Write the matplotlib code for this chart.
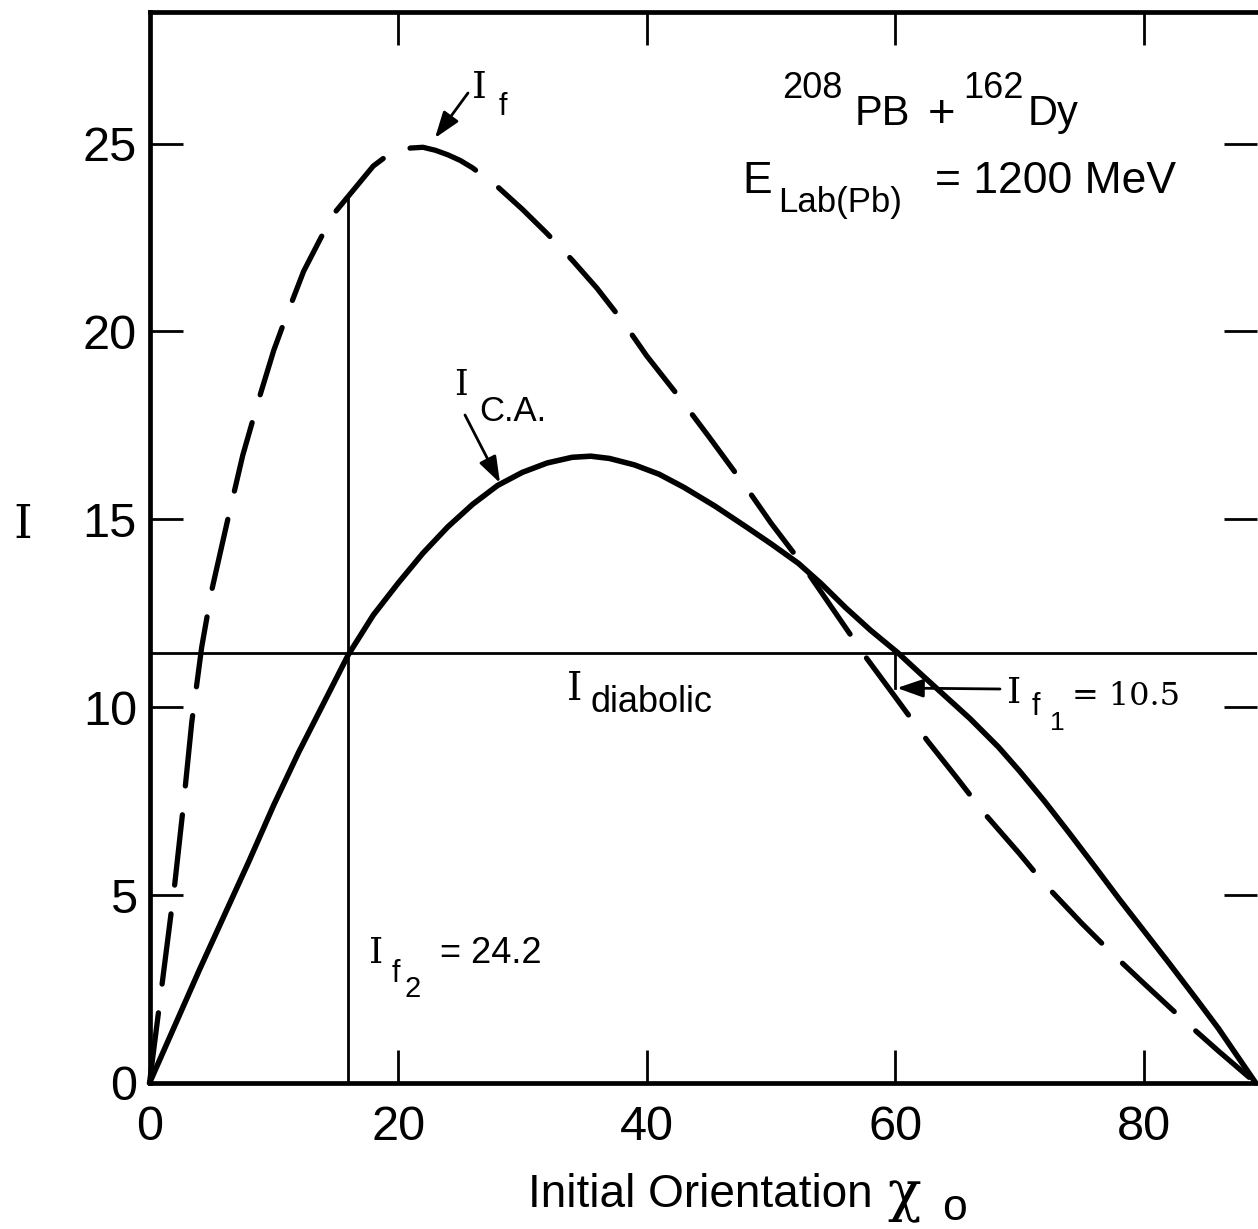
import numpy as np
import matplotlib
matplotlib.use('Agg')
import matplotlib.pyplot as plt

plt.rcParams['font.family'] = ['Liberation Sans', 'DejaVu Sans']

# I_f (dashed)
chi_f = [0, 0.5, 1, 1.5, 2, 2.7, 3.4, 4.2, 5, 6.3, 7.5, 8.8, 10, 11, 12.4,
         13.8, 15, 16, 17, 18, 19, 20, 21, 22, 23, 24, 25, 26, 27, 28, 29,
         30, 32, 34, 36, 38, 40, 42.5, 45, 48, 50, 52.3, 55, 57.7, 59.6,
         62.6, 65, 67.1, 70, 72, 75, 77.4, 80, 83.1, 86, 89]
i_f = [0, 1.3, 2.6, 3.9, 5.2, 7.3, 9.6, 11.6, 13.1, 15.0, 16.7, 18.2, 19.5,
       20.4, 21.6, 22.5, 23.2, 23.6, 24.0, 24.4, 24.65, 24.8, 24.88, 24.9,
       24.82, 24.7, 24.55, 24.35, 24.1, 23.85, 23.55, 23.25, 22.6, 21.9,
       21.15, 20.3, 19.35, 18.3, 17.2, 15.85, 14.9, 13.9, 12.6, 11.3, 10.45,
       9.1, 8.1, 7.2, 6.1, 5.3, 4.25, 3.46, 2.65, 1.7, 0.85, 0]

# I_C.A. (solid)
chi_ca = [0, 2, 4, 6, 8, 10, 12, 14, 16, 18, 20, 22, 24, 26, 28, 30, 32, 34,
          35.5, 37, 39, 41, 43, 45.5, 48, 50, 52.2, 54, 56, 58, 60.2, 62, 64,
          66, 68.3, 70, 72, 74, 76.3, 78, 80, 82, 84.3, 86, 89]
i_ca = [0, 1.5, 3.0, 4.45, 5.9, 7.4, 8.8, 10.1, 11.4, 12.45, 13.3, 14.1,
        14.8, 15.4, 15.9, 16.25, 16.5, 16.65, 16.68, 16.62, 16.45, 16.2,
        15.85, 15.35, 14.8, 14.35, 13.83, 13.3, 12.65, 12.05, 11.45, 10.9,
        10.3, 9.7, 8.94, 8.3, 7.5, 6.65, 5.65, 4.9, 4.05, 3.2, 2.2, 1.45, 0]

i_diabolic = 11.45
chi_f2, i_f2 = 16.0, 23.6
chi_f1, i_f1 = 60.0, 10.5

x_ticks = [0, 20, 40, 60, 80]
y_ticks = [0, 5, 10, 15, 20, 25]

W, H = 1258, 1229
fig = plt.figure(figsize=(W / 100, H / 100), dpi=100)
x0, x1, y0, y1 = 149.5, 1257, 1083, 12
XMAX, YMAX = 89.1, 28.5
ax = fig.add_axes([x0 / W, (H - y0) / H, (x1 - x0) / W, (y0 - y1) / H])
ax.set_xlim(0, XMAX)
ax.set_ylim(0, YMAX)

ax.plot(chi_f, i_f, color='k', lw=3.8, dashes=(13.4, 5.5),
        dash_capstyle='round', dash_joinstyle='round', clip_on=False)
ax.plot(chi_ca, i_ca, color='k', lw=4.0, solid_capstyle='round',
        solid_joinstyle='round', clip_on=False)
ax.axhline(i_diabolic, color='k', lw=2)
ax.plot([chi_f2, chi_f2], [0, i_f2], color='k', lw=2)
ax.plot([chi_f1, chi_f1], [i_diabolic, i_f1], color='k', lw=2)

for side in ('left', 'bottom', 'top'):
    ax.spines[side].set_linewidth(3.4)
ax.spines['right'].set_visible(False)

ax.set_xticks(x_ticks)
ax.set_yticks(y_ticks)
ax.tick_params(axis='both', direction='in', length=24, width=2.0,
               labelsize=35, top=True, right=True)
ax.tick_params(axis='x', pad=16)
ax.tick_params(axis='y', pad=9)

serif = 'DejaVu Serif'
arrow = dict(arrowstyle='-|>,head_length=0.8,head_width=0.28', color='k',
             lw=2, shrinkA=0, shrinkB=0, mutation_scale=20)


def px(x, y):
    return (x - x0) / (x1 - x0) * XMAX, (y0 - y) / (y0 - y1) * YMAX


# axis labels
ax.text(*px(23, 525), 'I', family=serif, fontsize=34, ha='center', va='center')
ax.text(*px(528, 1207), 'Initial Orientation', fontsize=33, va='baseline')
ax.text(*px(887, 1210), '\u03c7', family=serif, fontsize=40, va='baseline')
ax.text(*px(942, 1220), 'o', fontsize=32, va='baseline')

# title block
ax.text(*px(782, 98), '208', fontsize=26, va='baseline')
ax.text(*px(855, 125), 'PB', fontsize=30, va='baseline')
ax.text(*px(928, 127), '+', fontsize=34, va='baseline')
ax.text(*px(963, 98), '162', fontsize=26, va='baseline')
ax.text(*px(1028, 125), 'Dy', fontsize=30, va='baseline')
ax.text(*px(742, 193), 'E', fontsize=32, va='baseline')
ax.text(*px(778, 212), 'Lab(Pb)', fontsize=25, va='baseline')
ax.text(*px(935, 193), '= 1200 MeV', fontsize=32, va='baseline')

# I_f
ax.text(*px(472, 98), 'I', family=serif, fontsize=27, va='baseline')
ax.text(*px(499, 115), 'f', fontsize=22, va='baseline')
ax.annotate('', xy=px(435, 138), xytext=px(468, 93), arrowprops=arrow)

# I_C.A.
ax.text(*px(454, 395), 'I', family=serif, fontsize=25, va='baseline')
ax.text(*px(479, 421), 'C.A.', fontsize=25, va='baseline')
ax.annotate('', xy=px(500, 483), xytext=px(465, 415), arrowprops=arrow)

# I_diabolic
ax.text(*px(567, 700), 'I', family=serif, fontsize=28, va='baseline')
ax.text(*px(590, 712), 'diabolic', fontsize=26, va='baseline')

# I_f2
ax.text(*px(369, 963), 'I', family=serif, fontsize=26, va='baseline')
ax.text(*px(392, 982), 'f', fontsize=22, va='baseline')
ax.text(*px(405, 997), '2', fontsize=21, va='baseline')
ax.text(*px(440, 963), '= 24.2', fontsize=26, va='baseline')

# I_f1
ax.text(*px(1007, 703), 'I', family=serif, fontsize=26, va='baseline')
ax.text(*px(1032, 715), 'f', fontsize=22, va='baseline')
ax.text(*px(1050, 730), '1', fontsize=19, va='baseline')
ax.text(*px(1072, 705), '= 10.5', family=serif, fontsize=23, va='baseline')
ax.annotate('', xy=px(897, 688), xytext=px(1000, 689), arrowprops=arrow)

fig.savefig('out.png', dpi=100)
